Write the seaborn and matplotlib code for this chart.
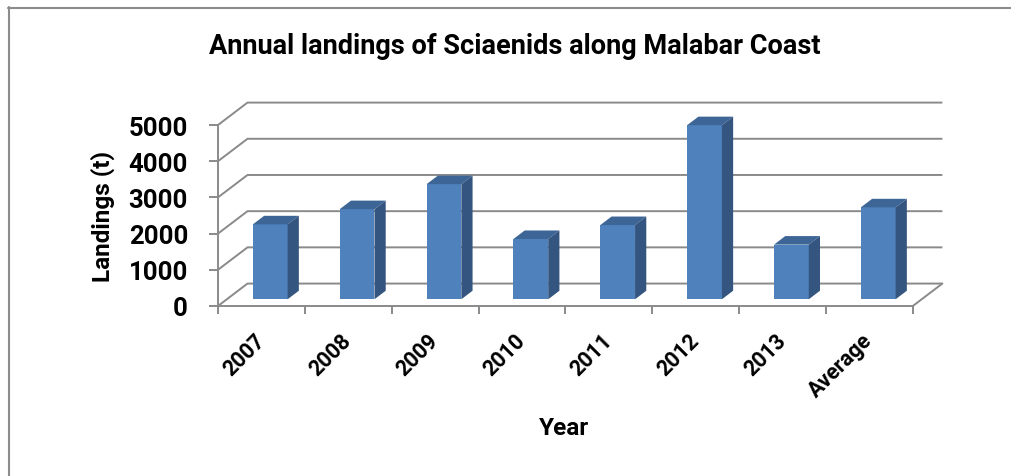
import numpy as np
import pandas as pd
import matplotlib
matplotlib.use("Agg")
import matplotlib.pyplot as plt
import seaborn as sns
from matplotlib.patches import Polygon
from matplotlib.lines import Line2D
from matplotlib.transforms import Affine2D

# Annual landings of Sciaenids (tonnes)
years = ["2007", "2008", "2009", "2010", "2011", "2012", "2013", "Average"]
landings = [2070, 2490, 3180, 1665, 2050, 4810, 1510, 2540]
y_ticks = [0, 1000, 2000, 3000, 4000, 5000]

title = "Annual landings of Sciaenids along Malabar Coast"
x_label = "Year"
y_label = "Landings (t)"

FRONT = "#4F81BD"
SIDE = "#34557F"
TOP = "#3D6595"
GRID = "#8A8A8A"

# oblique depth of the 3-D box (in data units) and where the bars sit in it
DX, DY = 0.34, 620
F0, F1 = 0.30, 0.68

sns.set_theme(style="ticks")
plt.rcParams["font.family"] = ["Roboto", "DejaVu Sans"]

fig = plt.figure(figsize=(10.11, 4.77), dpi=100)
ax = fig.add_axes([0.2156, 0.3564, 0.7208, 0.4325])

df = pd.DataFrame({"Year": years, "Landings": landings})
sns.barplot(data=df, x="Year", y="Landings", color=FRONT, saturation=1,
            width=0.4, linewidth=0, ax=ax, zorder=3)

ax.set_xlim(-0.5, 7.5 + DX + 0.05)
ax.set_ylim(0, 5000 + DY + 80)

# walls: gridlines run from the front axis back along the side wall and across the back wall
n = len(years)
for v in y_ticks:
    ax.plot([-0.5, -0.5 + DX, n - 0.5 + DX], [v, v + DY, v + DY],
            color=GRID, lw=1.4, zorder=1, clip_on=False, solid_capstyle="butt")
ax.plot([n - 0.5, n - 0.5 + DX], [0, DY], color=GRID, lw=1.4, zorder=1, clip_on=False)

# 3-D look for the bars: move front faces into the box, add top and side faces
shift = Affine2D().translate(F0 * DX, F0 * DY) + ax.transData
ddx, ddy = (F1 - F0) * DX, (F1 - F0) * DY
for bar in list(ax.patches):
    x0, w, h = bar.get_x(), bar.get_width(), bar.get_height()
    x1 = x0 + w
    bar.set_transform(shift)
    bar.set_clip_on(False)
    top = Polygon([(x0, h), (x1, h), (x1 + ddx, h + ddy), (x0 + ddx, h + ddy)],
                  closed=True, facecolor=TOP, edgecolor="none", zorder=3,
                  transform=shift, clip_on=False)
    side = Polygon([(x1, 0), (x1, h), (x1 + ddx, h + ddy), (x1 + ddx, ddy)],
                   closed=True, facecolor=SIDE, edgecolor="none", zorder=3,
                   transform=shift, clip_on=False)
    ax.add_patch(top)
    ax.add_patch(side)

# axes
for s in ["top", "right"]:
    ax.spines[s].set_visible(False)
for s in ["left", "bottom"]:
    ax.spines[s].set_color(GRID)
    ax.spines[s].set_linewidth(1.4)
ax.spines["left"].set_bounds(0, 5000)
ax.spines["bottom"].set_bounds(-0.5, n - 0.5)

ax.set_yticks(y_ticks)
ax.set_yticklabels([str(t) for t in y_ticks], fontsize=18.5, fontweight="bold")
ax.tick_params(axis="y", length=6.5, width=1.4, color=GRID, pad=15, labelcolor="black")

ax.set_xticks(range(n))
ax.set_xticks(np.arange(-0.5, n, 1.0), minor=True)
ax.set_xticklabels(years, rotation=45, ha="right", va="center",
                   rotation_mode="anchor", fontsize=15.5, fontweight="bold")
ax.tick_params(axis="x", which="major", length=0, pad=22, labelcolor="black")
ax.tick_params(axis="x", which="minor", length=5.8, width=1.4, color=GRID)

ax.set_xlabel(x_label, fontsize=17.5, fontweight="bold", color="black")
ax.xaxis.set_label_coords(0.4755, -0.533)
ax.set_ylabel(y_label, fontsize=17.5, fontweight="bold", color="black")
ax.yaxis.set_label_coords(-0.141, 0.44)

fig.text(515 / 1011, 1 - 47 / 477, title, ha="center", va="center",
         fontsize=19.5, fontweight="bold", color="black")

# chart-area border (left and top edges)
fig.add_artist(Line2D([8.5 / 1011, 8.5 / 1011], [0, 1 - 8 / 477],
                      transform=fig.transFigure, color="#8C8C8C", lw=1.5))
fig.add_artist(Line2D([8 / 1011, 1], [1 - 8.5 / 477, 1 - 8.5 / 477],
                      transform=fig.transFigure, color="#8C8C8C", lw=1.5))

fig.savefig("out.png", dpi=100, facecolor="white")
